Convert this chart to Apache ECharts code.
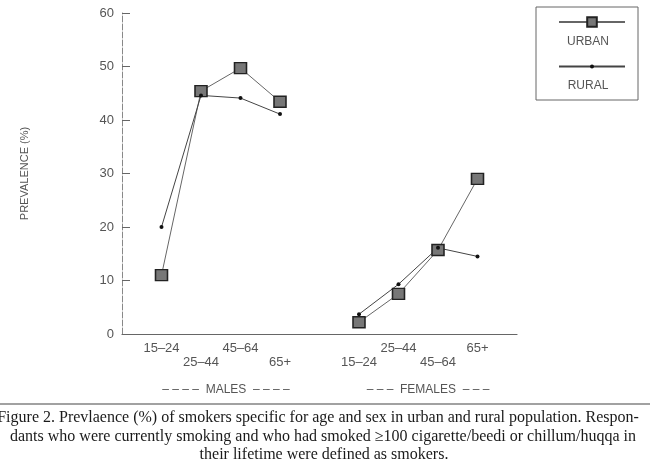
<!DOCTYPE html>
<html>
<head>
<meta charset="utf-8">
<script src="https://cdn.jsdelivr.net/npm/echarts@6/dist/echarts.min.js"></script>
<style>
  html, body { margin: 0; padding: 0; background: #fff; }
  #chart { width: 650px; height: 474px; }
</style>
</head>
<body>
<div id="chart"></div>
<script>
// age slots: males 1-4, gap, females 6-9
const ageSlots = ['', '15\u201324', '25\u201344', '45\u201364', '65+', '', '15\u201324', '25\u201344', '45\u201364', '65+', '']
// which labels sit on the lower row
const lowerRow = [false, false, true, false, true, false, true, false, true, false, false]

const urban = ['-', 11.0, 45.4, 49.7, 43.4, '-', 2.2, 7.5, 15.7, 29.0, '-']
const rural = ['-', 20.0, 44.6, 44.1, 41.1, '-', 3.7, 9.3, 16.1, 14.5, '-']

const yTicks = [0, 10, 20, 30, 40, 50, 60]

const captionLines = [
  'Figure 2. Prevlaence (%) of smokers specific for age and sex in urban and rural population. Respon-',
  'dants who were currently smoking and who had smoked \u2265100 cigarette/beedi or chillum/huqqa in',
  'their lifetime were defined as smokers.'
]

const sans = 'Liberation Sans'
const grey = '#555'

const chart = echarts.init(document.getElementById('chart'))

// shared legend look; two legends so the two icons get different marker sizes
const legendBase = {
  orient: 'vertical',
  left: 553,
  itemWidth: 66,
  formatter: () => ''
}

chart.setOption({
  animation: false,
  grid: { left: 122, right: 133, top: 13, bottom: 140 },
  legend: [
    Object.assign({}, legendBase, { top: 11, itemHeight: 12, data: ['URBAN'] }),
    Object.assign({}, legendBase, { top: 59, itemHeight: 5, data: ['RURAL'] })
  ],
  xAxis: {
    type: 'category',
    data: ageSlots,
    boundaryGap: false,
    axisLine: { lineStyle: { color: '#666', width: 1.2 } },
    axisTick: { show: false },
    axisLabel: {
      interval: 0,
      margin: 7,
      color: grey,
      fontFamily: sans,
      fontSize: 13,
      lineHeight: 14,
      formatter: (v, i) => lowerRow[i] ? '\n' + v : v
    }
  },
  yAxis: {
    type: 'value',
    min: 0,
    max: yTicks[yTicks.length - 1],
    interval: 10,
    name: 'PREVALENCE (%)',
    nameLocation: 'middle',
    nameGap: 92,
    nameRotate: 90,
    nameTextStyle: { color: grey, fontFamily: sans, fontSize: 11 },
    axisLine: { show: true, lineStyle: { color: '#888', width: 1, type: [6, 2] } },
    axisTick: { show: true, inside: true, length: 8, lineStyle: { color: '#666' } },
    splitLine: { show: false },
    axisLabel: { color: grey, fontFamily: sans, fontSize: 13, margin: 8 }
  },
  series: [
    {
      name: 'URBAN',
      type: 'line',
      data: urban,
      symbol: 'rect',
      symbolSize: [12, 11],
      lineStyle: { color: '#666', width: 1 },
      itemStyle: { color: '#777', borderColor: '#222', borderWidth: 1.5 }
    },
    {
      name: 'RURAL',
      type: 'line',
      data: rural,
      symbol: 'circle',
      symbolSize: 4,
      lineStyle: { color: '#444', width: 1 },
      itemStyle: { color: '#111' }
    }
  ],
  graphic: [
    {
      type: 'rect',
      shape: { x: 536, y: 7, width: 102, height: 93 },
      style: { fill: 'none', stroke: '#666', lineWidth: 1 }
    },
    {
      type: 'text', x: 588, y: 42,
      style: { text: 'URBAN', fill: grey, font: '12px ' + sans, textAlign: 'center', textVerticalAlign: 'middle' }
    },
    {
      type: 'text', x: 588, y: 86,
      style: { text: 'RURAL', fill: grey, font: '12px ' + sans, textAlign: 'center', textVerticalAlign: 'middle' }
    },
    {
      type: 'text', x: 226, y: 390,
      style: { text: '\u2013 \u2013 \u2013 \u2013  MALES  \u2013 \u2013 \u2013 \u2013', fill: grey, font: '12px ' + sans, textAlign: 'center', textVerticalAlign: 'middle' }
    },
    {
      type: 'text', x: 428, y: 390,
      style: { text: '\u2013 \u2013 \u2013  FEMALES  \u2013 \u2013 \u2013', fill: grey, font: '12px ' + sans, textAlign: 'center', textVerticalAlign: 'middle' }
    },
    {
      type: 'line',
      shape: { x1: 0, y1: 404, x2: 650, y2: 404 },
      style: { stroke: '#444', lineWidth: 1.2 }
    },
    ...captionLines.map((t, i) => ({
      type: 'text', x: [318, 323, 324][i], y: 418 + i * 18.5,
      style: { text: t, fill: '#1a1a1a', font: '16px "Liberation Serif"', textAlign: 'center', textVerticalAlign: 'middle' }
    }))
  ]
})
</script>
</body>
</html>
